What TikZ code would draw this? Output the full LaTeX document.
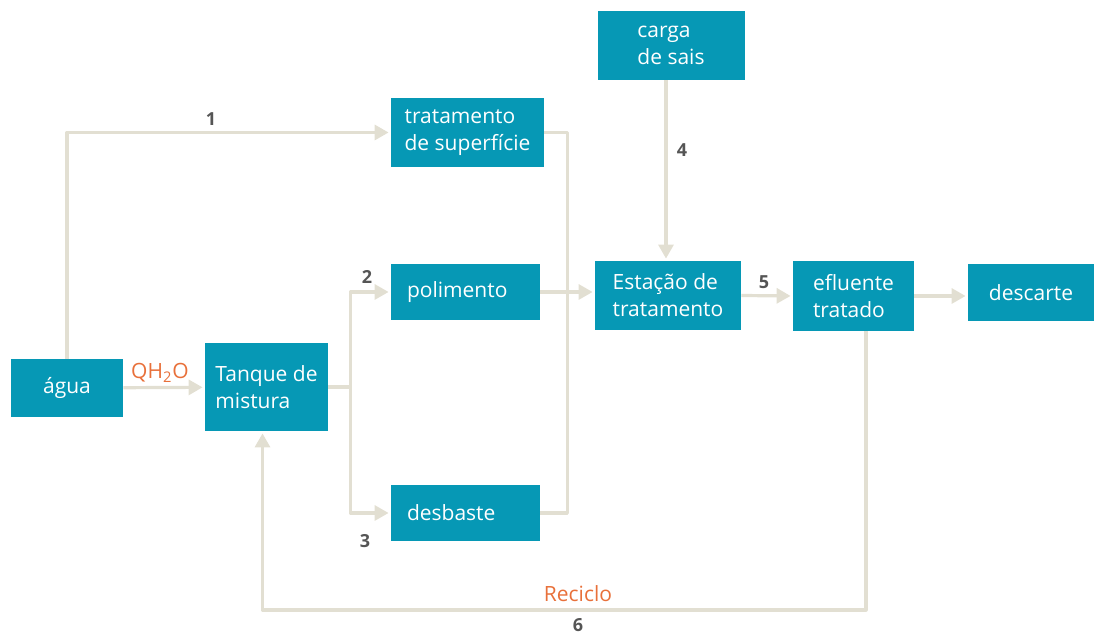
\documentclass[tikz,border=0pt]{standalone}
\usepackage{fontspec}
\setmainfont{Open Sans}
\usetikzlibrary{arrows.meta}
\definecolor{boxblue}{HTML}{0698B5}
\definecolor{flowgray}{HTML}{E2DFD2}
\definecolor{tagorange}{HTML}{E8703A}
\definecolor{numgray}{HTML}{555555}
\begin{document}
\begin{tikzpicture}[x=0.5pt,y=-0.5pt, font=\fontsize{10.5}{13.5}\selectfont, line join=round,
		box/.style 2 args={fill=boxblue, text=white, inner sep=0pt, align=left, minimum width=#1, minimum height=#2},
		wire/.style={draw=flowgray, line width=1.6pt},
		flow/.style={wire, -{Triangle[length=7pt,width=7.5pt]}, shorten >=1pt},
		num/.style={text=numgray, font=\fontsize{9}{10}\selectfont\bfseries},
		tag/.style={text=tagorange}]
			\useasboundingbox (0,0) rectangle (1094,635);
			\node[box={56pt}{29pt}] (agua) at (67,388) {água};
			\node[box={61.5pt}{44pt}] (tanque) at (266.5,387) {Tanque de\\mistura};
			\node[box={76.5pt}{34.5pt}] (trat) at (467.5,132.5) {tratamento\\de superfície};
			\node[box={0pt}{28pt}, text width=58.5pt, inner xsep=8pt] (pol) at (465.5,292) {polimento};
			\node[box={0pt}{28pt}, text width=58.5pt, inner xsep=8pt] (desb) at (465.5,513) {desbaste};
			\node[box={73.5pt}{34.5pt}] (carga) at (671,45.5) {carga\\de sais};
			\node[box={73pt}{34.5pt}] (est) at (668,295.5) {Estação de\\tratamento};
			\node[box={60.5pt}{35pt}] (eflu) at (853.5,296) {efluente\\tratado};
			\node[box={63pt}{28.5pt}] (desc) at (1031,292.5) {descarte};
			\coordinate (split) at ([xshift=11pt]tanque.east);
			\coordinate (join) at ([xshift=11.5pt]trat.east);
			\coordinate (salt) at (666,0);
			\coordinate (rec) at (866,610);
			\draw[flow] (agua.north) |- (trat.west);
			\draw[flow] (agua) -- (tanque);
			\draw[wire] (tanque.east) -- (split);
			\draw[flow] (split) |- (pol.west);
			\draw[flow] (split) |- (desb.west);
			\draw[wire] (trat.east) -- (join) |- (desb.east);
			\draw[flow] (pol.east) -- (pol.east -| est.west);
			\draw[flow] (carga.south -| salt) -- (est.north -| salt);
			\draw[flow] (est.east) -- (eflu.west);
			\draw[flow] (eflu.east) -- (eflu.east -| desc.west);
			\draw[flow] (eflu.south -| rec) -- (rec) -| ([xshift=-2pt]tanque.south);
			\foreach \l/\x/\y in {1/211/119, 2/367/277, 3/365/541, 4/682/150, 5/764/282, 6/578/625}{\node[num] (n\l) at (\x,\y) {\l};}
			\node[tag] (qh2o) at (160,373) {QH\textsubscript{2}O};
			\node[tag] (reciclo) at (578,594) {Reciclo};
	\end{tikzpicture}
\end{document}
